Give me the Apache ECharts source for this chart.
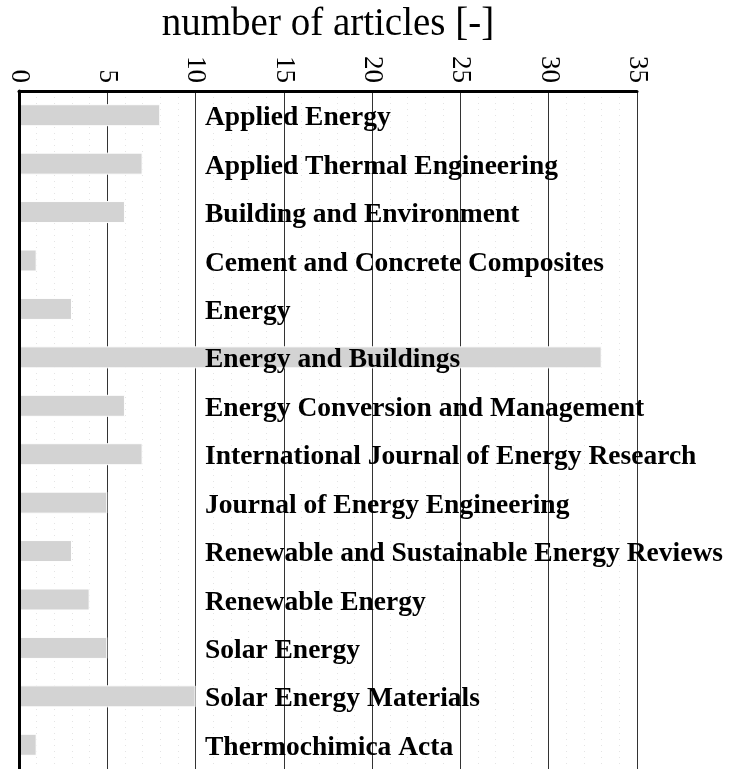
<!DOCTYPE html>
<html>
<head>
<meta charset="utf-8">
<script src="https://cdn.jsdelivr.net/npm/echarts@6/dist/echarts.min.js"></script>
<style>
  html, body { margin: 0; padding: 0; background: #fff; }
  #chart { width: 735px; height: 769px; }
</style>
</head>
<body>
<div id="chart"></div>
<script>
const journals = [
  `Applied Energy`,
  `Applied Thermal Engineering`,
  `Building and Environment`,
  `Cement and Concrete Composites`,
  `Energy`,
  `Energy and Buildings`,
  `Energy Conversion and Management`,
  `International Journal of Energy Research`,
  `Journal of Energy Engineering`,
  `Renewable and Sustainable Energy Reviews`,
  `Renewable Energy`,
  `Solar Energy`,
  `Solar Energy Materials`,
  `Thermochimica Acta`
];
const articles = [8, 7, 6, 1, 3, 33, 6, 7, 5, 3, 4, 5, 10, 1];
const axisMin = 0;
const axisMax = 35;
const axisStep = 5;

const serif = `"Liberation Serif", "Times New Roman", serif`;
const chart = echarts.init(document.getElementById(`chart`));

const option = {
  animation: false,
  grid: { left: 19, right: 98, top: 91, bottom: 0, containLabel: false, outerBoundsMode: `none` },
  xAxis: {
    type: `value`,
    position: `top`,
    min: axisMin,
    max: axisMax,
    interval: axisStep,
    name: `number of articles [-]`,
    nameLocation: `middle`,
    nameGap: 47,
    nameTextStyle: { fontFamily: serif, fontSize: 39, color: `#000` },
    axisLine: { show: true, lineStyle: { color: `#000`, width: 3 } },
    axisTick: { show: false },
    axisLabel: {
      rotate: 90,
      margin: 8,
      fontFamily: serif,
      fontSize: 27,
      color: `#000`
    },
    splitLine: { show: true, lineStyle: { color: `#333`, width: 1 } },
    minorTick: { show: false, splitNumber: 5 },
    minorSplitLine: { show: true, lineStyle: { color: `#e4e4e4`, width: 1, type: [1, 5] } }
  },
  yAxis: {
    type: `category`,
    inverse: true,
    data: journals,
    axisLine: { show: true, lineStyle: { color: `#000`, width: 3 } },
    axisTick: { show: false },
    splitLine: { show: false },
    axisLabel: {
      inside: true,
      margin: 186,
      align: `left`,
      formatter: (v) => `{t|${v}}`,
      rich: {
        t: {
          padding: [6, 0, 0, 0],
          fontFamily: serif,
          fontWeight: `bold`,
          fontSize: 27.5,
          color: `#000`
        }
      }
    },
    z: 10
  },
  series: [
    {
      type: `bar`,
      data: articles,
      barWidth: 22,
      itemStyle: { color: `#d3d3d3`, borderColor: `#fff`, borderWidth: 1 },
      z: 2
    }
  ]
};
chart.setOption(option);
</script>
</body>
</html>
